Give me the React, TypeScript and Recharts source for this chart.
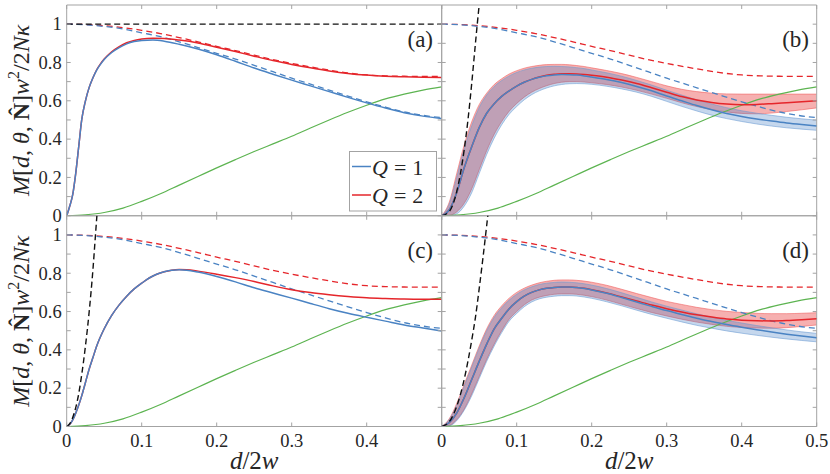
import React from 'react';
import { ComposedChart, Line, Area, XAxis, YAxis, ReferenceArea } from 'recharts';

// ---------- layout constants ----------
const W = 830;
const H = 474;
const PLOT_W = 375;
const PLOT_H = 210.75;
const L0 = 66.7;
const L1 = 441.7;
const T0 = 5;
const T1 = 215.75;
const TICK = 4;
const YAXIS_W = 40;
const XAXIS_H = 30;

const FONT = 'Liberation Serif, DejaVu Serif, serif';
const C_TEXT = '#262626';
const C_GRID = '#a3a3a3';
const C_BLUE = '#4a83c3';
const C_RED = '#e5262b';
const C_GREEN = '#5db451';
const C_BLACK = '#111111';

// ---------- ticks ----------
const X_TICKS = [0, 0.1, 0.2, 0.3, 0.4, 0.5];
const Y_TICKS = [0, 0.1, 0.2, 0.3, 0.4, 0.5, 0.6, 0.7, 0.8, 0.9, 1];
const Y_TICK_LABELS = ['0', '', '0.2', '', '0.4', '', '0.6', '', '0.8', '', '1'];
const X_TICK_LABELS_C = ['0', '0.1', '0.2', '0.3', '0.4', ''];
const X_TICK_LABELS_D = ['0', '0.1', '0.2', '0.3', '0.4', '0.5'];

// ---------- data: [d/2w, value] ----------
const GREEN = [[0,0],[0.025,0.005],[0.05,0.017],[0.075,0.04],[0.1,0.075],[0.125,0.115],[0.15,0.16],[0.175,0.205],[0.2,0.25],[0.225,0.293],[0.25,0.335],[0.275,0.375],[0.3,0.415],[0.325,0.458],[0.35,0.5],[0.375,0.54],[0.4,0.577],[0.425,0.61],[0.45,0.635],[0.475,0.656],[0.5,0.673]];
const RED_DASH = [[0,1],[0.025,0.998],[0.05,0.992],[0.075,0.982],[0.1,0.968],[0.125,0.951],[0.15,0.93],[0.175,0.908],[0.2,0.884],[0.225,0.862],[0.25,0.838],[0.275,0.815],[0.3,0.795],[0.325,0.777],[0.35,0.76],[0.375,0.745],[0.4,0.735],[0.425,0.73],[0.45,0.728],[0.475,0.727],[0.5,0.727]];
const BLUE_DASH = [[0,1],[0.025,0.997],[0.05,0.988],[0.075,0.975],[0.1,0.955],[0.125,0.935],[0.15,0.908],[0.175,0.878],[0.2,0.848],[0.225,0.818],[0.25,0.785],[0.275,0.752],[0.3,0.718],[0.325,0.687],[0.35,0.656],[0.375,0.625],[0.4,0.595],[0.425,0.567],[0.45,0.542],[0.475,0.524],[0.5,0.512]];

// panel (a)
const BLACK_A = [[0,1],[0.5,1]];
const BLUE_A = [[0,0],[0.004,0.05],[0.008,0.11],[0.012,0.22],[0.016,0.36],[0.02,0.5],[0.025,0.6],[0.03,0.67],[0.035,0.72],[0.04,0.76],[0.045,0.79],[0.05,0.815],[0.06,0.852],[0.07,0.878],[0.08,0.897],[0.09,0.909],[0.1,0.915],[0.115,0.917],[0.13,0.911],[0.15,0.895],[0.175,0.87],[0.2,0.84],[0.225,0.806],[0.25,0.771],[0.275,0.739],[0.3,0.708],[0.325,0.678],[0.35,0.648],[0.375,0.618],[0.4,0.589],[0.425,0.562],[0.45,0.538],[0.475,0.52],[0.5,0.508]];
const RED_A = [[0,0],[0.004,0.05],[0.008,0.11],[0.012,0.22],[0.016,0.36],[0.02,0.5],[0.025,0.6],[0.03,0.67],[0.035,0.72],[0.04,0.762],[0.045,0.793],[0.05,0.818],[0.06,0.856],[0.07,0.883],[0.08,0.903],[0.09,0.915],[0.1,0.922],[0.115,0.926],[0.13,0.925],[0.15,0.917],[0.175,0.902],[0.2,0.88],[0.225,0.857],[0.25,0.833],[0.275,0.81],[0.3,0.79],[0.325,0.772],[0.35,0.756],[0.375,0.743],[0.4,0.734],[0.425,0.728],[0.45,0.725],[0.475,0.723],[0.5,0.722]];

// panel (b)
const BLACK_B = [[0,0],[0.01,0.022],[0.015,0.06],[0.02,0.126],[0.025,0.22],[0.03,0.345],[0.035,0.5],[0.04,0.69],[0.045,0.9],[0.05,1.1],[0.053,1.2]];
const BLUE_B = [[0,0],[0.01,0.03],[0.02,0.12],[0.03,0.25],[0.04,0.36],[0.05,0.46],[0.06,0.535],[0.07,0.585],[0.08,0.623],[0.09,0.652],[0.1,0.677],[0.11,0.697],[0.12,0.712],[0.13,0.723],[0.14,0.731],[0.15,0.735],[0.16,0.737],[0.17,0.736],[0.18,0.734],[0.19,0.73],[0.2,0.724],[0.22,0.711],[0.24,0.695],[0.26,0.675],[0.28,0.652],[0.3,0.625],[0.32,0.6],[0.34,0.575],[0.36,0.553],[0.38,0.534],[0.4,0.518],[0.42,0.505],[0.44,0.494],[0.46,0.484],[0.48,0.476],[0.5,0.469]];
const RED_B = [[0,0],[0.01,0.03],[0.02,0.12],[0.03,0.25],[0.04,0.36],[0.05,0.46],[0.06,0.535],[0.07,0.585],[0.08,0.623],[0.09,0.652],[0.1,0.677],[0.11,0.697],[0.12,0.712],[0.13,0.724],[0.14,0.733],[0.15,0.738],[0.16,0.741],[0.17,0.741],[0.18,0.74],[0.19,0.737],[0.2,0.733],[0.22,0.723],[0.24,0.708],[0.26,0.69],[0.28,0.668],[0.3,0.645],[0.32,0.622],[0.34,0.604],[0.36,0.591],[0.38,0.583],[0.4,0.58],[0.42,0.581],[0.44,0.585],[0.46,0.59],[0.48,0.595],[0.5,0.6]];
const RED_B_LO = [[0,0],[0.01,0.002],[0.02,0.02],[0.03,0.065],[0.04,0.14],[0.05,0.24],[0.06,0.34],[0.07,0.425],[0.08,0.492],[0.09,0.546],[0.1,0.586],[0.11,0.619],[0.12,0.645],[0.13,0.664],[0.14,0.679],[0.15,0.69],[0.16,0.697],[0.17,0.7],[0.18,0.7],[0.19,0.698],[0.2,0.694],[0.22,0.685],[0.24,0.672],[0.26,0.655],[0.28,0.635],[0.3,0.613],[0.32,0.59],[0.34,0.57],[0.36,0.554],[0.38,0.542],[0.4,0.534],[0.42,0.532],[0.44,0.536],[0.46,0.544],[0.48,0.553],[0.5,0.563]];
const RED_B_HI = [[0,0],[0.01,0.07],[0.02,0.22],[0.03,0.37],[0.04,0.49],[0.05,0.58],[0.06,0.64],[0.07,0.685],[0.08,0.715],[0.09,0.74],[0.1,0.757],[0.11,0.77],[0.12,0.779],[0.13,0.785],[0.14,0.789],[0.15,0.79],[0.16,0.79],[0.17,0.788],[0.18,0.784],[0.19,0.779],[0.2,0.772],[0.22,0.758],[0.24,0.742],[0.26,0.722],[0.28,0.7],[0.3,0.678],[0.32,0.66],[0.34,0.648],[0.36,0.64],[0.38,0.636],[0.4,0.635],[0.42,0.635],[0.44,0.635],[0.46,0.635],[0.48,0.635],[0.5,0.635]];
const BLUE_B_LO = [[0,0],[0.01,0],[0.02,0.01],[0.03,0.05],[0.04,0.12],[0.05,0.22],[0.06,0.32],[0.07,0.405],[0.08,0.475],[0.09,0.53],[0.1,0.57],[0.11,0.605],[0.12,0.632],[0.13,0.652],[0.14,0.667],[0.15,0.678],[0.16,0.685],[0.17,0.689],[0.18,0.69],[0.19,0.689],[0.2,0.686],[0.22,0.676],[0.24,0.662],[0.26,0.645],[0.28,0.623],[0.3,0.597],[0.32,0.571],[0.34,0.547],[0.36,0.525],[0.38,0.507],[0.4,0.492],[0.42,0.479],[0.44,0.468],[0.46,0.459],[0.48,0.452],[0.5,0.446]];
const BLUE_B_HI = [[0,0],[0.01,0.06],[0.02,0.2],[0.03,0.35],[0.04,0.47],[0.05,0.565],[0.06,0.63],[0.07,0.675],[0.08,0.706],[0.09,0.73],[0.1,0.748],[0.11,0.761],[0.12,0.77],[0.13,0.776],[0.14,0.779],[0.15,0.78],[0.16,0.779],[0.17,0.777],[0.18,0.773],[0.19,0.768],[0.2,0.761],[0.22,0.746],[0.24,0.728],[0.26,0.706],[0.28,0.682],[0.3,0.655],[0.32,0.63],[0.34,0.605],[0.36,0.583],[0.38,0.564],[0.4,0.548],[0.42,0.535],[0.44,0.524],[0.46,0.514],[0.48,0.506],[0.5,0.499]];

// panel (c)
const BLACK_C = [[0,0],[0.005,0.02],[0.01,0.07],[0.015,0.15],[0.02,0.27],[0.025,0.42],[0.03,0.6],[0.035,0.82],[0.038,0.98],[0.041,1.14]];
const BLUE_C = [[0,0],[0.005,0.015],[0.01,0.05],[0.015,0.1],[0.02,0.16],[0.025,0.23],[0.03,0.3],[0.035,0.36],[0.04,0.42],[0.05,0.51],[0.06,0.58],[0.07,0.635],[0.08,0.68],[0.09,0.718],[0.1,0.748],[0.11,0.775],[0.12,0.795],[0.13,0.808],[0.14,0.816],[0.15,0.818],[0.16,0.816],[0.175,0.806],[0.2,0.783],[0.225,0.755],[0.25,0.724],[0.275,0.697],[0.3,0.67],[0.325,0.642],[0.35,0.615],[0.375,0.591],[0.4,0.57],[0.425,0.55],[0.45,0.53],[0.475,0.514],[0.5,0.498]];
const RED_C = [[0,0],[0.005,0.015],[0.01,0.05],[0.015,0.1],[0.02,0.16],[0.025,0.23],[0.03,0.3],[0.035,0.36],[0.04,0.42],[0.05,0.51],[0.06,0.58],[0.07,0.635],[0.08,0.68],[0.09,0.718],[0.1,0.748],[0.11,0.775],[0.12,0.795],[0.13,0.808],[0.14,0.816],[0.15,0.819],[0.16,0.818],[0.175,0.811],[0.2,0.795],[0.225,0.777],[0.25,0.757],[0.275,0.734],[0.3,0.714],[0.325,0.699],[0.35,0.688],[0.375,0.679],[0.4,0.672],[0.425,0.668],[0.45,0.665],[0.475,0.664],[0.5,0.664]];

// panel (d)
const BLACK_D = [[0,0],[0.01,0.025],[0.02,0.105],[0.03,0.246],[0.04,0.45],[0.045,0.57],[0.05,0.72],[0.055,0.88],[0.06,1.05],[0.064,1.19]];
const BLUE_D = [[0,0],[0.01,0.02],[0.02,0.07],[0.03,0.15],[0.04,0.245],[0.05,0.34],[0.06,0.43],[0.07,0.51],[0.08,0.565],[0.09,0.615],[0.1,0.652],[0.11,0.68],[0.12,0.7],[0.13,0.713],[0.14,0.721],[0.15,0.726],[0.16,0.728],[0.17,0.728],[0.18,0.725],[0.19,0.72],[0.2,0.713],[0.22,0.695],[0.24,0.673],[0.26,0.65],[0.28,0.627],[0.3,0.605],[0.32,0.585],[0.34,0.565],[0.36,0.548],[0.38,0.532],[0.4,0.518],[0.42,0.505],[0.44,0.493],[0.46,0.482],[0.48,0.472],[0.5,0.463]];
const RED_D = [[0,0],[0.01,0.02],[0.02,0.07],[0.03,0.15],[0.04,0.245],[0.05,0.34],[0.06,0.43],[0.07,0.51],[0.08,0.565],[0.09,0.615],[0.1,0.652],[0.11,0.68],[0.12,0.7],[0.13,0.713],[0.14,0.721],[0.15,0.726],[0.16,0.728],[0.17,0.728],[0.18,0.726],[0.19,0.721],[0.2,0.714],[0.22,0.697],[0.24,0.676],[0.26,0.655],[0.28,0.634],[0.3,0.615],[0.32,0.598],[0.34,0.583],[0.36,0.571],[0.38,0.561],[0.4,0.555],[0.42,0.552],[0.44,0.551],[0.46,0.553],[0.48,0.557],[0.5,0.562]];
const RED_D_LO = [[0,0],[0.01,0.005],[0.02,0.035],[0.03,0.09],[0.04,0.17],[0.05,0.26],[0.06,0.35],[0.07,0.43],[0.08,0.5],[0.09,0.56],[0.1,0.6],[0.11,0.635],[0.12,0.66],[0.13,0.675],[0.14,0.684],[0.15,0.69],[0.16,0.692],[0.17,0.692],[0.18,0.69],[0.19,0.685],[0.2,0.678],[0.22,0.66],[0.24,0.638],[0.26,0.616],[0.28,0.595],[0.3,0.577],[0.32,0.56],[0.34,0.545],[0.36,0.533],[0.38,0.523],[0.4,0.517],[0.42,0.514],[0.44,0.513],[0.46,0.516],[0.48,0.522],[0.5,0.53]];
const RED_D_HI = [[0,0],[0.01,0.04],[0.02,0.12],[0.03,0.22],[0.04,0.32],[0.05,0.42],[0.06,0.51],[0.07,0.58],[0.08,0.63],[0.09,0.67],[0.1,0.7],[0.11,0.722],[0.12,0.738],[0.13,0.75],[0.14,0.758],[0.15,0.763],[0.16,0.765],[0.17,0.765],[0.18,0.763],[0.19,0.759],[0.2,0.753],[0.22,0.737],[0.24,0.716],[0.26,0.694],[0.28,0.673],[0.3,0.653],[0.32,0.637],[0.34,0.622],[0.36,0.61],[0.38,0.601],[0.4,0.595],[0.42,0.591],[0.44,0.589],[0.46,0.589],[0.48,0.591],[0.5,0.594]];
const BLUE_D_LO = [[0,0],[0.01,0.003],[0.02,0.03],[0.03,0.085],[0.04,0.16],[0.05,0.25],[0.06,0.34],[0.07,0.42],[0.08,0.49],[0.09,0.55],[0.1,0.59],[0.11,0.625],[0.12,0.65],[0.13,0.666],[0.14,0.675],[0.15,0.68],[0.16,0.683],[0.17,0.683],[0.18,0.681],[0.19,0.676],[0.2,0.669],[0.22,0.651],[0.24,0.63],[0.26,0.607],[0.28,0.585],[0.3,0.565],[0.32,0.546],[0.34,0.528],[0.36,0.513],[0.38,0.499],[0.4,0.487],[0.42,0.476],[0.44,0.466],[0.46,0.457],[0.48,0.449],[0.5,0.442]];
const BLUE_D_HI = [[0,0],[0.01,0.035],[0.02,0.11],[0.03,0.21],[0.04,0.31],[0.05,0.41],[0.06,0.5],[0.07,0.57],[0.08,0.62],[0.09,0.66],[0.1,0.69],[0.11,0.713],[0.12,0.729],[0.13,0.741],[0.14,0.748],[0.15,0.752],[0.16,0.754],[0.17,0.753],[0.18,0.75],[0.19,0.745],[0.2,0.738],[0.22,0.72],[0.24,0.698],[0.26,0.674],[0.28,0.65],[0.3,0.628],[0.32,0.608],[0.34,0.588],[0.36,0.57],[0.38,0.554],[0.4,0.54],[0.42,0.527],[0.44,0.515],[0.46,0.504],[0.48,0.494],[0.5,0.486]];

// ---------- helpers ----------
const pts = (a: number[][]) => a.map(([d, v]) => ({ d, v }));
const band = (lo: number[][], hi: number[][]) => lo.map(([d, l], i) => ({ d, r: [l, hi[i][1]] }));

function curve(key: string, data: number[][], color: string, opts: { dash?: string; width?: number } = {}) {
  return (
    <Line
      key={key}
      data={pts(data)}
      dataKey="v"
      type="monotone"
      stroke={color}
      strokeWidth={opts.width ?? 1.5}
      strokeDasharray={opts.dash}
      dot={false}
      activeDot={false}
      isAnimationActive={false}
    />
  );
}

function fill(key: string, lo: number[][], hi: number[][], color: string, edge: string, opacity: number) {
  return (
    <Area
      key={key}
      data={band(lo, hi)}
      dataKey="r"
      type="monotone"
      fill={color}
      fillOpacity={opacity}
      stroke={edge}
      strokeWidth={0.7}
      strokeOpacity={0.8}
      dot={false}
      activeDot={false}
      isAnimationActive={false}
    />
  );
}

function makeXTick(labels: string[] | null, axisY: number) {
  return (p: any) => {
    const { x, index } = p;
    const y = axisY;
    const lab = labels ? labels[index] : '';
    return (
      <g>
        <line x1={x} y1={y} x2={x} y2={y - TICK} stroke={C_GRID} strokeWidth={1} />
        <line x1={x} y1={y - PLOT_H} x2={x} y2={y - PLOT_H + TICK} stroke={C_GRID} strokeWidth={1} />
        {lab ? (
          <text x={x} y={y + 20.5} textAnchor="middle" fontFamily={FONT} fontSize={18.5} fill={C_TEXT}>
            {lab}
          </text>
        ) : null}
      </g>
    );
  };
}

function makeYTick(showLabels: boolean, axisX: number) {
  return (p: any) => {
    const { y, index } = p;
    const x = axisX;
    const lab = showLabels ? Y_TICK_LABELS[index] : '';
    return (
      <g>
        <line x1={x} y1={y} x2={x + TICK} y2={y} stroke={C_GRID} strokeWidth={1} />
        <line x1={x + PLOT_W} y1={y} x2={x + PLOT_W - TICK} y2={y} stroke={C_GRID} strokeWidth={1} />
        {lab ? (
          <text x={x - 5} y={y + 6.3} textAnchor="end" fontFamily={FONT} fontSize={18.5} fill={C_TEXT}>
            {lab}
          </text>
        ) : null}
      </g>
    );
  };
}

function Panel({ left, top, xLabels, yLabels, children }: { left: number; top: number; xLabels: string[] | null; yLabels: boolean; children: React.ReactNode }) {
  const margin = {
    left: left - YAXIS_W,
    top,
    right: W - left - PLOT_W,
    bottom: H - top - PLOT_H - XAXIS_H,
  };
  return (
    <div style={{ position: 'absolute', left: 0, top: 0 }}>
      <ComposedChart width={W} height={H} margin={margin}>
        <XAxis
          type="number"
          dataKey="d"
          domain={[0, 0.5]}
          ticks={X_TICKS}
          interval={0}
          allowDataOverflow
          height={XAXIS_H}
          axisLine={false}
          tickLine={false}
          tickSize={0}
          tickMargin={0}
          tick={makeXTick(xLabels, top + PLOT_H)}
        />
        <YAxis
          type="number"
          domain={[0, 1.1]}
          ticks={Y_TICKS}
          interval={0}
          allowDataOverflow
          width={YAXIS_W}
          axisLine={false}
          tickLine={false}
          tickSize={0}
          tickMargin={0}
          tick={makeYTick(yLabels, left)}
        />
        {children}
        <ReferenceArea x1={0} x2={0.5} y1={0} y2={1.1} fill="none" fillOpacity={0} stroke={C_GRID} strokeWidth={1} />
      </ComposedChart>
    </div>
  );
}

const DASH = '6 4';
const BDASH = '6 3.5';

function YLabel({ cy }: { cy: number }) {
  return (
    <text transform={`translate(29, ${cy}) rotate(-90)`} textAnchor="middle" fontFamily={FONT} fontSize={24} fill={C_TEXT}>
      <tspan fontStyle="italic">M</tspan>
      <tspan>[</tspan>
      <tspan fontStyle="italic">d</tspan>
      <tspan>, </tspan>
      <tspan fontStyle="italic">θ</tspan>
      <tspan>, </tspan>
      <tspan fontWeight="bold">{'N\u0302'}</tspan>
      <tspan>]</tspan>
      <tspan fontStyle="italic">w</tspan>
      <tspan fontSize={16} dy={-10}>2</tspan>
      <tspan dy={10}>/2</tspan>
      <tspan fontStyle="italic">N</tspan>
      <tspan fontStyle="italic">κ</tspan>
    </text>
  );
}

function XLabel({ cx }: { cx: number }) {
  return (
    <text x={cx} y={469} textAnchor="middle" fontFamily={FONT} fontSize={25} fill={C_TEXT}>
      <tspan fontStyle="italic">d</tspan>
      <tspan>/2</tspan>
      <tspan fontStyle="italic">w</tspan>
    </text>
  );
}

function LegendEntry({ y, color, label }: { y: number; color: string; label: string }) {
  return (
    <g>
      <line x1={352} y1={y - 8} x2={371} y2={y - 8} stroke={color} strokeWidth={1.5} />
      <text x={372} y={y} fontFamily={FONT} fontSize={22} fill={C_TEXT}>
        <tspan fontStyle="italic">Q</tspan>
        <tspan dx={6}>=</tspan>
        <tspan dx={6}>{label}</tspan>
      </text>
    </g>
  );
}

export default function App() {
  return (
    <div style={{ position: 'relative', width: W, height: H, background: '#ffffff', overflow: 'hidden' }}>
      <style>{'body{margin:0;background:#ffffff;}'}</style>

      <Panel left={L0} top={T0} xLabels={null} yLabels>
        {curve('gA', GREEN, C_GREEN, { width: 1.2 })}
        {curve('rdA', RED_DASH, C_RED, { dash: DASH, width: 1.3 })}
        {curve('bdA', BLUE_DASH, C_BLUE, { dash: DASH, width: 1.3 })}
        {curve('rA', RED_A, C_RED)}
        {curve('bA', BLUE_A, C_BLUE)}
        {curve('kA', BLACK_A, C_BLACK, { dash: BDASH, width: 1.4 })}
      </Panel>

      <Panel left={L1} top={T0} xLabels={null} yLabels={false}>
        {fill('rbB', RED_B_LO, RED_B_HI, '#e83a3a', '#ee5a5a', 0.4)}
        {fill('bbB', BLUE_B_LO, BLUE_B_HI, '#3f7cc4', '#6a9bd2', 0.3)}
        {curve('gB', GREEN, C_GREEN, { width: 1.2 })}
        {curve('rdB', RED_DASH, C_RED, { dash: DASH, width: 1.3 })}
        {curve('bdB', BLUE_DASH, C_BLUE, { dash: DASH, width: 1.3 })}
        {curve('rB', RED_B, C_RED)}
        {curve('bB', BLUE_B, C_BLUE)}
        {curve('kB', BLACK_B, C_BLACK, { dash: BDASH, width: 1.4 })}
      </Panel>

      <Panel left={L0} top={T1} xLabels={X_TICK_LABELS_C} yLabels>
        {curve('gC', GREEN, C_GREEN, { width: 1.2 })}
        {curve('rdC', RED_DASH, C_RED, { dash: DASH, width: 1.3 })}
        {curve('bdC', BLUE_DASH, C_BLUE, { dash: DASH, width: 1.3 })}
        {curve('rC', RED_C, C_RED)}
        {curve('bC', BLUE_C, C_BLUE)}
        {curve('kC', BLACK_C, C_BLACK, { dash: BDASH, width: 1.4 })}
      </Panel>

      <Panel left={L1} top={T1} xLabels={X_TICK_LABELS_D} yLabels={false}>
        {fill('rbD', RED_D_LO, RED_D_HI, '#e83a3a', '#ee5a5a', 0.4)}
        {fill('bbD', BLUE_D_LO, BLUE_D_HI, '#3f7cc4', '#6a9bd2', 0.3)}
        {curve('gD', GREEN, C_GREEN, { width: 1.2 })}
        {curve('rdD', RED_DASH, C_RED, { dash: DASH, width: 1.3 })}
        {curve('bdD', BLUE_DASH, C_BLUE, { dash: DASH, width: 1.3 })}
        {curve('rD', RED_D, C_RED)}
        {curve('bD', BLUE_D, C_BLUE)}
        {curve('kD', BLACK_D, C_BLACK, { dash: BDASH, width: 1.4 })}
      </Panel>

      <svg width={W} height={H} style={{ position: 'absolute', left: 0, top: 0, pointerEvents: 'none' }}>
        <YLabel cy={T0 + PLOT_H / 2} />
        <YLabel cy={T1 + PLOT_H / 2} />
        <XLabel cx={L0 + PLOT_W / 2} />
        <XLabel cx={L1 + PLOT_W / 2} />

        <g fontFamily={FONT} fontSize={23} fill={C_TEXT}>
          <text x={433} y={47} textAnchor="end">(a)</text>
          <text x={809} y={47} textAnchor="end">(b)</text>
          <text x={433} y={258} textAnchor="end">(c)</text>
          <text x={809} y={258} textAnchor="end">(d)</text>
        </g>

        <g>
          <rect x={349.5} y={151.5} width={87} height={59.5} fill="#ffffff" stroke={C_GRID} strokeWidth={1} />
          <LegendEntry y={174.5} color={C_BLUE} label="1" />
          <LegendEntry y={203} color={C_RED} label="2" />
        </g>
      </svg>
    </div>
  );
}
